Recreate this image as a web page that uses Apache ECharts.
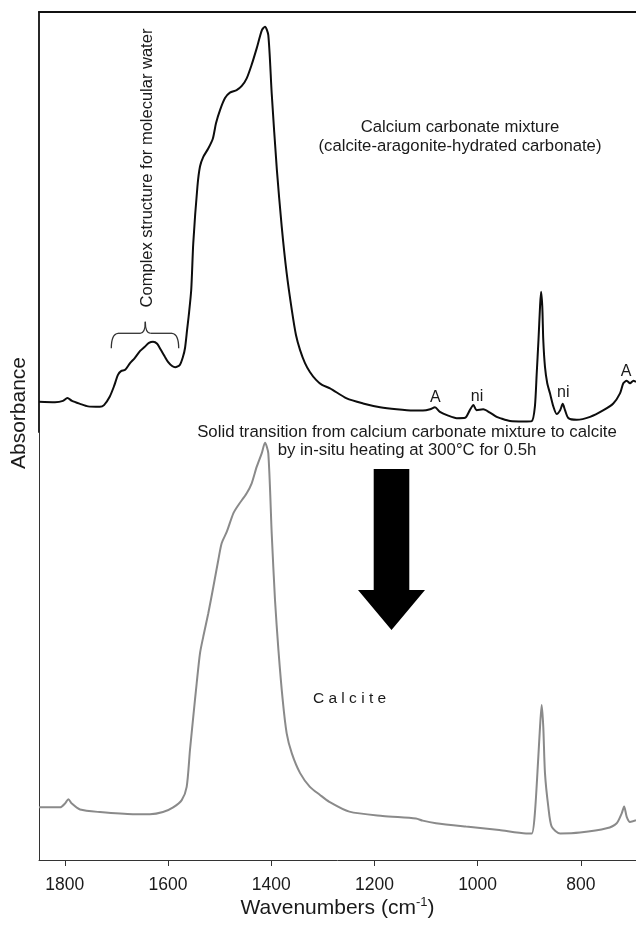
<!DOCTYPE html>
<html>
<head>
<meta charset="utf-8">
<script src="https://cdn.jsdelivr.net/npm/echarts@6/dist/echarts.min.js"></script>
<style>
html,body{margin:0;padding:0;background:#fff;}
#c{width:636px;height:928px;}
</style>
</head>
<body>
<div id="c"></div>
<script>
// Upper spectrum: calcium carbonate mixture
var upperWavenumber = [1850,1819,1803.5,1795,1786,1770.5,1755,1732,1724,1713,1704.6,1697,1691,1683,1673.6,1664.5,1654,1645,1637,1629,1621,1613.6,1606,1600,1592,1586,1577,1571,1567,1563,1560,1555,1551,1543,1538,1531.6,1522,1513,1507,1499,1489.5,1480,1467,1457,1447.5,1438,1428,1418,1412,1405.6,1399,1389,1379.6,1370,1360,1352,1344,1334.5,1325,1313,1301.5,1286,1253.7,1222,1189,1157,1125,1106,1092,1082.6,1073,1057,1040.5,1024,1015,1008,1002,989,976,963,956.6,937,911,895,889,885.4,882,879,877,874.6,872.7,869.4,865,859.7,853,846.7,840,835,830.6,824,808,782,756,737,724,717.6,711,704.6,698,693];
var upperAbs = [0.072,0.071,0.074,0.081,0.074,0.067,0.061,0.060,0.064,0.084,0.109,0.136,0.145,0.148,0.164,0.176,0.193,0.203,0.212,0.215,0.210,0.195,0.179,0.167,0.157,0.154,0.160,0.179,0.200,0.243,0.275,0.338,0.450,0.584,0.632,0.655,0.675,0.699,0.735,0.767,0.795,0.808,0.814,0.824,0.842,0.874,0.914,0.957,0.965,0.945,0.806,0.624,0.489,0.378,0.290,0.231,0.195,0.164,0.143,0.124,0.112,0.104,0.080,0.068,0.059,0.054,0.051,0.051,0.054,0.059,0.048,0.039,0.033,0.034,0.052,0.064,0.052,0.054,0.046,0.036,0.033,0.026,0.025,0.026,0.060,0.140,0.219,0.298,0.334,0.298,0.219,0.155,0.116,0.092,0.060,0.043,0.052,0.067,0.052,0.033,0.029,0.036,0.052,0.068,0.092,0.116,0.122,0.116,0.122,0.119];
// Lower spectrum: calcite after heating
var lowerWavenumber = [1850,1809,1799.6,1793,1786.6,1770.5,1732,1668,1635,1609.7,1590,1573.4,1563.8,1557.4,1551,1544.4,1538,1531.6,1522,1512,1502.5,1496,1486,1473.4,1463.8,1447.5,1437.8,1428,1418.4,1412,1405.6,1399,1392.6,1386,1377.7,1370,1360,1344,1325,1305.4,1287.4,1248.6,1184,1119.4,1106.4,1080.6,1022.5,958,906,895,889,882.3,879,875.8,872.7,869.4,863,856.4,840,801.5,750,730.4,720.7,716,711,704.6,693];
var lowerAbs = [0.123,0.123,0.132,0.142,0.132,0.118,0.112,0.107,0.107,0.112,0.123,0.140,0.171,0.257,0.335,0.413,0.483,0.522,0.576,0.639,0.701,0.740,0.767,0.810,0.829,0.857,0.880,0.919,0.950,0.975,0.950,0.763,0.607,0.491,0.374,0.296,0.249,0.203,0.171,0.152,0.136,0.113,0.103,0.097,0.092,0.086,0.078,0.070,0.062,0.062,0.109,0.241,0.311,0.362,0.311,0.203,0.125,0.078,0.062,0.064,0.074,0.086,0.109,0.125,0.101,0.089,0.093];
var tickValues = [800,1000,1200,1400,1600,1800];

function pairs(xs, ys){ return xs.map(function(x,i){ return [x, ys[i]]; }); }

var FONT = '"Liberation Sans", Arial, sans-serif';
var TXT = '#1a1a1a';
var chart = echarts.init(document.getElementById('c'), null, {renderer:'canvas'});

var option = {
  animation: false,
  backgroundColor: '#fff',
  grid: [
    {left: 39, right: 0, top: 12, height: 420},
    {left: 39, right: 0, top: 432, height: 428}
  ],
  xAxis: [
    {type:'value', gridIndex:0, position:'top', min:693, max:1850, inverse:true,
     axisLine:{show:true, onZero:false, lineStyle:{color:'#111', width:1.8}},
     axisTick:{show:false}, axisLabel:{show:false}, splitLine:{show:false}},
    {type:'value', gridIndex:1, position:'bottom', min:693, max:1850, inverse:true,
     axisLine:{show:true, onZero:false, lineStyle:{color:'#333', width:1}},
     axisTick:{show:true, inside:false, length:6, lineStyle:{color:'#333'}, customValues: tickValues},
     axisLabel:{show:true, margin:16, fontSize:17.5, color:TXT, fontFamily:FONT, customValues: tickValues,
       formatter:function(v){ return String(v); }},
     splitLine:{show:false},
     name:'Wavenumbers (cm{sup|-1})', nameLocation:'middle', nameGap:36,
     nameTextStyle:{fontSize:21, color:TXT, fontFamily:FONT,
       rich:{sup:{fontSize:13, verticalAlign:'top', color:TXT, fontFamily:FONT, padding:[0,0,11,0]}}}}
  ],
  yAxis: [
    {type:'value', gridIndex:0, min:0, max:1,
     axisLine:{show:true, lineStyle:{color:'#111', width:1.8}},
     axisTick:{show:false}, axisLabel:{show:false}, splitLine:{show:false}},
    {type:'value', gridIndex:1, min:0, max:1,
     axisLine:{show:true, lineStyle:{color:'#333', width:1}},
     axisTick:{show:false}, axisLabel:{show:false}, splitLine:{show:false}}
  ],
  series: [
    {type:'line', xAxisIndex:0, yAxisIndex:0, data: pairs(upperWavenumber, upperAbs),
     showSymbol:false, smooth:0.25, lineStyle:{color:'#0d0d0d', width:2}},
    {type:'line', xAxisIndex:1, yAxisIndex:1, data: pairs(lowerWavenumber, lowerAbs),
     showSymbol:false, smooth:0.25, lineStyle:{color:'#8a8a8a', width:2}}
  ]
};
chart.setOption(option);

// annotations
var g = [];
function txt(x, y, s, size, rot){
  g.push({type:'text', x:x, y:y, rotation: rot || 0,
    style:{text:s, fill:TXT, font: size + 'px ' + FONT, textAlign:'center', textVerticalAlign:'middle'}});
}
function at(v, a){ return chart.convertToPixel({xAxisIndex:0, yAxisIndex:0}, [v, a]); }
txt(19, 413, 'Absorbance', 21, Math.PI/2);
txt(147, 168, 'Complex structure for molecular water', 16.5, Math.PI/2);
txt(460, 127, 'Calcium carbonate mixture', 16.7);
txt(460, 146, '(calcite-aragonite-hydrated carbonate)', 16.7);
txt(407, 432, 'Solid transition from calcium carbonate mixture to calcite', 16.8);
txt(407, 450, 'by in-situ heating at 300\u00b0C for 0.5h', 16.8);
txt(349.5, 699, 'C a l c i t e', 15.5);
var pA1 = at(1082, 0.083), pN1 = at(1001, 0.085), pN2 = at(834, 0.094), pA2 = at(712, 0.145);
txt(pA1[0], pA1[1], 'A', 16);
txt(pN1[0], pN1[1], 'ni', 16);
txt(pN2[0], pN2[1], 'ni', 16);
txt(pA2[0], pA2[1], 'A', 16);
// curly bracket
var bs = {stroke:'#333', lineWidth:1.3, fill:null};
g.push({type:'bezierCurve', shape:{x1:111.3, y1:348.3, cpx1:111.3, cpy1:334, x2:118, y2:333.3}, style:bs});
g.push({type:'line', shape:{x1:118, y1:333.3, x2:140, y2:333.3}, style:bs});
g.push({type:'bezierCurve', shape:{x1:140, y1:333.3, cpx1:145.3, cpy1:333.3, x2:145.3, y2:321.7}, style:bs});
g.push({type:'bezierCurve', shape:{x1:145.3, y1:321.7, cpx1:145.3, cpy1:333.3, x2:150.6, y2:333.3}, style:bs});
g.push({type:'line', shape:{x1:150.6, y1:333.3, x2:172, y2:333.3}, style:bs});
g.push({type:'bezierCurve', shape:{x1:172, y1:333.3, cpx1:178.7, cpy1:334, x2:178.7, y2:348.3}, style:bs});
// arrow
g.push({type:'polygon', shape:{points:[[373.7,469],[409.3,469],[409.3,590],[425,590],[391.5,630],[358,590],[373.7,590]]},
  style:{fill:'#000'}});
chart.setOption({graphic: g});
</script>
</body>
</html>
